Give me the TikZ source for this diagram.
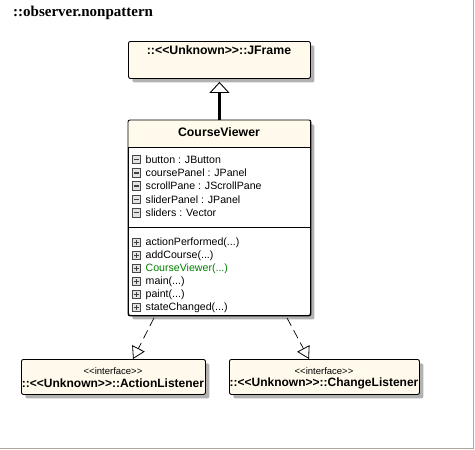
\documentclass[tikz,border=0pt]{standalone}
\usepackage{fontspec}
\setmainfont{Liberation Sans}
\newfontfamily\titlefont{Liberation Serif}
\usetikzlibrary{arrows.meta,shadows}
\definecolor{cream}{RGB}{255,250,235}
\definecolor{framegray}{RGB}{172,168,153}
\definecolor{ctorgreen}{RGB}{0,128,0}
\begin{document}
\begin{tikzpicture}[x=1pt,y=-1pt,
  umlbox/.style={draw=black, line width=0.9pt, fill=cream, rounded corners=2pt, inner sep=0pt,
    anchor=north west, drop shadow={shadow xshift=4pt, shadow yshift=-4pt, fill=gray!60, opacity=1}},
  itemtext/.style={anchor=west, inner sep=0pt, font=\fontsize{10.6}{12}\selectfont},
  headtext/.style={inner sep=0pt, font=\fontsize{12.3}{14}\selectfont\bfseries},
  listtext/.style={inner sep=0pt, font=\fontsize{12}{14}\selectfont\bfseries},
  stereotext/.style={inner sep=0pt, font=\fontsize{9.5}{11}\selectfont},
  iconbase/.style={draw=gray!55!black, fill=gray!22, minimum size=8.5pt, inner sep=0pt, line width=0.8pt},
  iconminus/.style={iconbase, path picture={\draw[line width=1.4pt, black!75]
      ([xshift=1.8pt]path picture bounding box.west) -- ([xshift=-1.8pt]path picture bounding box.east);}},
  iconplus/.style={iconbase, path picture={\draw[line width=1.4pt, black!75]
      ([xshift=1.8pt]path picture bounding box.west) -- ([xshift=-1.8pt]path picture bounding box.east)
      ([yshift=-1.8pt]path picture bounding box.north) -- ([yshift=1.8pt]path picture bounding box.south);}},
  realize/.style={line width=0.7pt, dash pattern=on 9pt off 5pt,
    -{Triangle[open, length=12pt, width=14pt, line width=0.8pt]}},
  generalize/.style={line width=3pt, -{Triangle[open, length=11pt, width=20pt, line width=0.9pt]}}
]
\useasboundingbox (0,0) rectangle (475,450);
\draw[framegray, line width=1pt] (473.5,0) -- (473.5,448.5) -- (0,448.5);

% title
\node[anchor=west, inner sep=0pt, font=\fontsize{15}{17}\selectfont\titlefont\bfseries] (title) at (13,13) {::observer.nonpattern};

% JFrame
\node[umlbox, minimum width=182pt, minimum height=37pt] (jframe) at (128,41) {};
\node[headtext] (jframetxt) at (219,50) {::<{}<Unknown>{}>::JFrame};

% CourseViewer
\node[umlbox, fill=white, minimum width=182pt, minimum height=195pt] (cv) at (128,120) {};
\fill[cream] ([shift={(0.45pt,-0.45pt)}]cv.north west) rectangle ([shift={(-0.45pt,-27pt)}]cv.north east);
\draw[line width=0.9pt, rounded corners=2pt] (cv.north west) rectangle (cv.south east);
\draw[line width=0.9pt] ([yshift=-27pt]cv.north west) -- ([yshift=-27pt]cv.north east);
\draw[line width=0.9pt] ([yshift=-107pt]cv.north west) -- ([yshift=-107pt]cv.north east);
\node[headtext] (cvtxt) at (219,132) {CourseViewer};

\node[iconminus] (ia1) at (136.5,159.5) {};
\node[itemtext] (a1) at (145.5,159.5) {button : JButton};
\node[iconminus] (ia2) at (136.5,172.8) {};
\node[itemtext] (a2) at (145.5,172.8) {coursePanel : JPanel};
\node[iconminus] (ia3) at (136.5,186.1) {};
\node[itemtext] (a3) at (145.5,186.1) {scrollPane : JScrollPane};
\node[iconminus] (ia4) at (136.5,199.4) {};
\node[itemtext] (a4) at (145.5,199.4) {sliderPanel : JPanel};
\node[iconminus] (ia5) at (136.5,212.7) {};
\node[itemtext] (a5) at (145.5,212.7) {sliders : Vector};

\node[iconplus] (im1) at (136.5,242.5) {};
\node[itemtext] (m1) at (145.5,242.5) {actionPerformed(...)};
\node[iconplus] (im2) at (136.5,255.5) {};
\node[itemtext] (m2) at (145.5,255.5) {addCourse(...)};
\node[iconplus] (im3) at (136.5,268.5) {};
\node[itemtext, text=ctorgreen] (m3) at (145.5,268.5) {CourseViewer(...)};
\node[iconplus] (im4) at (136.5,281.5) {};
\node[itemtext] (m4) at (145.5,281.5) {main(...)};
\node[iconplus] (im5) at (136.5,294.5) {};
\node[itemtext] (m5) at (145.5,294.5) {paint(...)};
\node[iconplus] (im6) at (136.5,307.5) {};
\node[itemtext] (m6) at (145.5,307.5) {stateChanged(...)};

% Listeners
\node[umlbox, minimum width=184pt, minimum height=35pt] (al) at (21,359) {};
\node[stereotext] (alst) at (113,371) {<{}<interface>{}>};
\node[listtext] (altxt) at (113,383.5) {::<{}<Unknown>{}>::ActionListener};

\node[umlbox, minimum width=190pt, minimum height=35pt] (cl) at (229,359) {};
\node[stereotext] (clst) at (324,371) {<{}<interface>{}>};
\node[listtext] (cltxt) at (324,383.5) {::<{}<Unknown>{}>::ChangeListener};

% connectors
\draw[generalize] (cv.north) -- ([yshift=-3pt]jframe.south);
\draw[realize] ([shift={(26pt,-2pt)}]cv.south west) -- ([xshift=112pt]al.north west);
\draw[realize] ([shift={(159pt,-2pt)}]cv.south west) -- ([xshift=80pt]cl.north west);
\end{tikzpicture}
\end{document}
